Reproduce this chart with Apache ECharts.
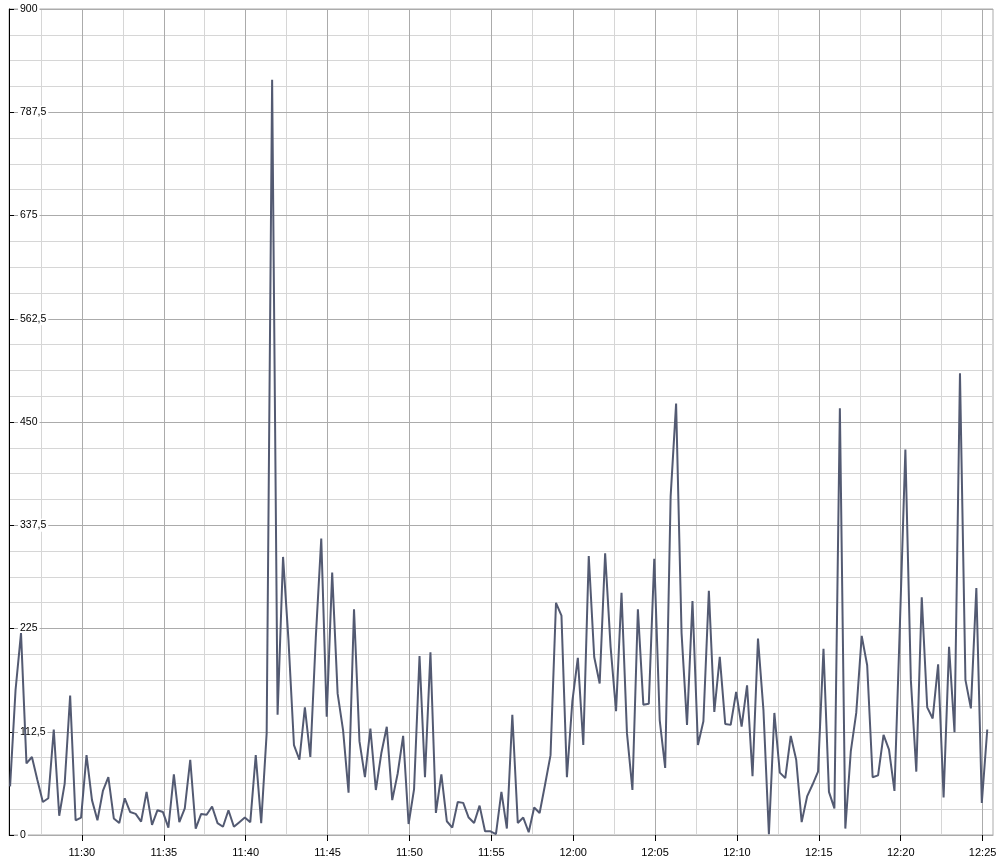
<!DOCTYPE html>
<html><head><meta charset="utf-8">
<script src="https://cdn.jsdelivr.net/npm/echarts@6/dist/echarts.min.js"></script>
<style>html,body{margin:0;padding:0;background:#fff}#c{width:1008px;height:868px}</style>
</head><body><div id="c"></div>
<script>
// ---- data ----
const startTime = '11:25:37';
const stepSeconds = 20;
const values = [
  53, 158, 220, 78, 85, 60, 36, 40, 115, 21,
  56, 152, 16, 19, 87, 38, 16, 48, 63, 18,
  13, 40, 25, 23, 14.5, 47, 11, 27, 25, 8,
  66, 14, 29, 82, 7, 23, 22, 31, 13, 9,
  27, 9, 14, 19, 14, 87, 13, 111, 823, 131,
  303, 212, 98, 82, 139, 85, 215, 323, 129, 286,
  154, 114, 46, 246, 102, 63, 116, 49, 89, 118,
  38, 67, 108, 12, 50, 195, 63, 199, 24, 66,
  15, 8, 36, 35, 19, 13, 32, 4, 4, 1,
  47, 7, 131, 13, 19, 3, 30, 24, 55, 87,
  253, 239, 63, 146, 193, 98, 304, 194, 165, 307,
  205, 135, 264, 111, 49, 246, 142, 143, 301, 125,
  73, 369, 470, 220, 120, 255, 98, 124, 266, 134,
  194, 121, 120, 156, 118, 163, 64, 214, 136, 1,
  133, 68, 62, 108, 82, 14, 42, 55, 69, 203,
  47, 29, 465, 7, 91, 133, 217, 185, 63, 65,
  109, 93, 48, 230, 420, 169, 69, 259, 139, 127,
  186, 41, 205, 112, 503, 169, 138, 269, 35, 115
];
const xTickLabels = ['11:30','11:35','11:40','11:45','11:50','11:55','12:00','12:05','12:10','12:15','12:20','12:25'];
const xRange = ['11:25:33', '12:25:38'];
const yMin = 0, yMax = 900, yStep = 112.5;

function toSec(s) { const p = s.split(':').map(Number); return p[0]*3600 + p[1]*60 + (p[2] || 0); }
function fmt(sec) { const h = Math.floor(sec/3600), m = Math.round((sec % 3600)/60); return h + ':' + String(m).padStart(2, '0'); }

const t0 = toSec(startTime);
const seriesData = values.map((v, i) => [t0 + i*stepSeconds, v]);
const xMin = toSec(xRange[0]), xMax = toSec(xRange[1]);
const majorX = xTickLabels.map(toSec);
const minorX = majorX.map(t => t - 150).filter(t => t > xMin);

const MAJOR = '#ababab', MINOR = '#d6d6d6', FONT = "'Liberation Sans', Arial, sans-serif";

const chart = echarts.init(document.getElementById('c'), null, {renderer: 'canvas'});
chart.setOption({
  animation: false,
  backgroundColor: '#fff',
  grid: { left: 9, right: 15, top: 9, bottom: 33, show: true, borderColor: MAJOR, borderWidth: 1, backgroundColor: 'transparent' },
  xAxis: [{
    type: 'value', min: xMin, max: xMax, z: 1,
    axisLine: { show: true, lineStyle: { color: MAJOR, width: 1 } },
    axisTick: { show: true, customValues: majorX, length: 6, lineStyle: { color: '#000' } },
    axisLabel: { show: true, customValues: majorX, formatter: v => fmt(v), color: '#000', fontFamily: FONT, fontSize: 11, margin: 12 },
    splitLine: { show: true, lineStyle: { color: MAJOR, width: 1 } }
  }, {
    type: 'value', min: xMin, max: xMax, z: 0,
    axisLine: { show: false },
    axisTick: { show: false, customValues: minorX },
    axisLabel: { show: false, customValues: minorX },
    splitLine: { show: true, lineStyle: { color: MINOR, width: 1 } }
  }],
  yAxis: {
    type: 'value', min: yMin, max: yMax, interval: yStep, z: 1,
    axisLine: { show: true, lineStyle: { color: '#000', width: 1 } },
    axisTick: { show: true, inside: true, length: 5, lineStyle: { color: '#000' } },
    axisLabel: { inside: true, margin: 9, color: '#000', fontFamily: FONT, fontSize: 10.5,
      backgroundColor: '#fff', padding: [1, 2],
      formatter: v => String(v).replace('.', ',') },
    splitLine: { show: true, lineStyle: { color: MAJOR, width: 1 } },
    minorTick: { show: false, splitNumber: 4 },
    minorSplitLine: { show: true, lineStyle: { color: MINOR, width: 1 } }
  },
  series: [{
    type: 'line', xAxisIndex: 0, data: seriesData, showSymbol: false, symbol: 'none',
    lineStyle: { color: '#535a72', width: 2 }, z: 2
  }]
});
</script>
</body></html>
